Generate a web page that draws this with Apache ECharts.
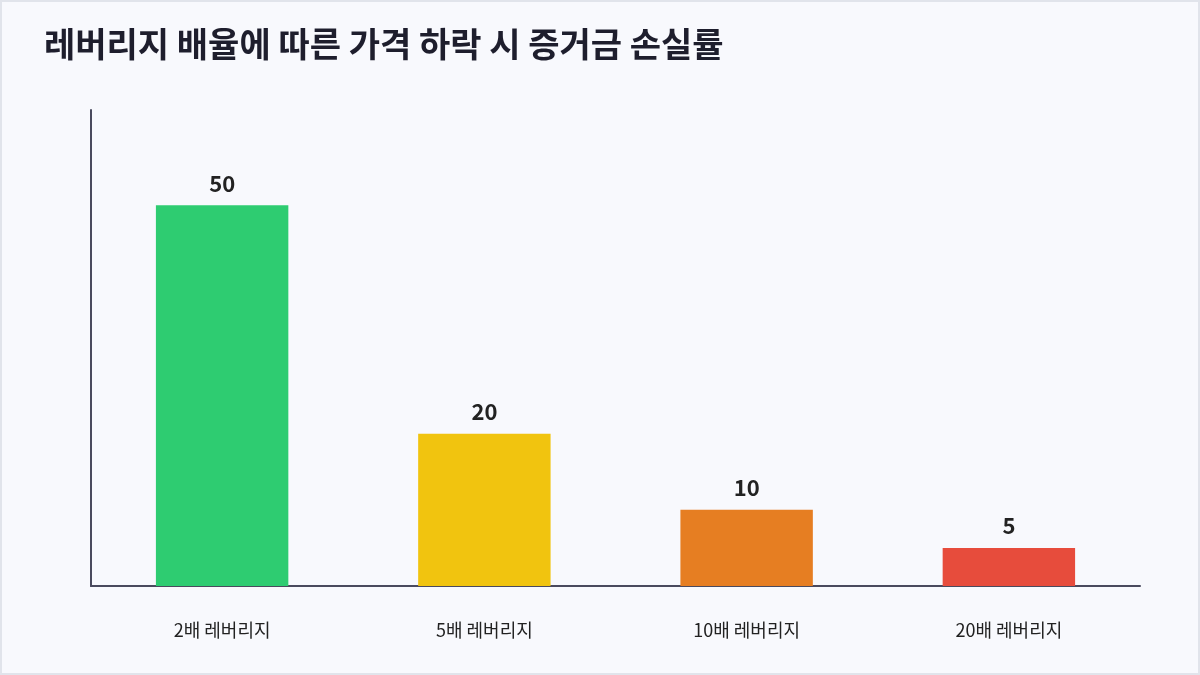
<!DOCTYPE html>
<html>
<head>
<meta charset="utf-8">
<script src="https://cdn.jsdelivr.net/npm/echarts@6/dist/echarts.min.js"></script>
<style>
html,body{margin:0;padding:0;background:#f8f9fd;}
#wrap{width:1200px;height:675px;box-sizing:border-box;border:2px solid #e1e4eb;background:#f8f9fd;}
#chart{width:100%;height:100%;}
</style>
</head>
<body>
<div id="wrap"><div id="chart"></div></div>
<script>
const titleText = '레버리지 배율에 따른 가격 하락 시 증거금 손실률';
const categories = ['2배 레버리지', '5배 레버리지', '10배 레버리지', '20배 레버리지'];
const lossValues = [50, 20, 10, 5];
const barColors = ['#2ecc71', '#f1c40f', '#e67e22', '#e74c3c'];
const yMax = 62.5;

const font = '"Noto Sans CJK KR", "Noto Sans", sans-serif';
const chart = echarts.init(document.getElementById('chart'));
chart.setOption({
  backgroundColor: 'transparent',
  animation: false,
  title: {
    text: titleText,
    left: 37, top: 20,
    textStyle: {fontFamily: font, fontSize: 34, fontWeight: 'bold', color: '#1e1e2d'}
  },
  grid: {left: 89, right: 58, top: 108, bottom: 87},
  xAxis: {
    type: 'category',
    data: categories,
    axisLine: {lineStyle: {color: '#4a4a5e', width: 2}},
    axisTick: {show: false},
    axisLabel: {fontFamily: font, fontSize: 18, color: '#222', margin: 35}
  },
  yAxis: {
    type: 'value',
    min: 0, max: yMax,
    axisLine: {show: true, lineStyle: {color: '#4a4a5e', width: 2}},
    axisTick: {show: false},
    axisLabel: {show: false},
    splitLine: {show: false}
  },
  series: [{
    type: 'bar',
    barWidth: '50.5%',
    data: lossValues.map((v, i) => ({value: v, itemStyle: {color: barColors[i]}})),
    label: {
      show: true, position: 'top', distance: 11,
      fontFamily: font, fontSize: 22, fontWeight: 'bold', color: '#222'
    }
  }]
});
</script>
</body>
</html>
